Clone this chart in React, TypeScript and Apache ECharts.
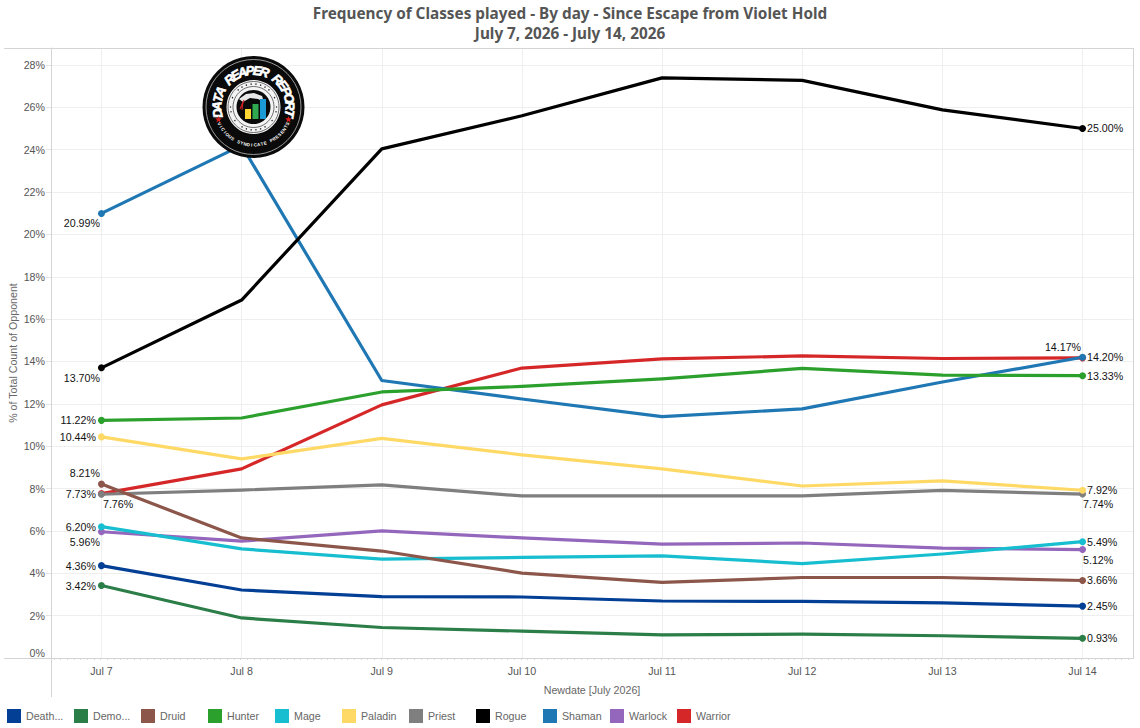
import React, { useEffect, useRef } from "react";
import * as echarts from "echarts";

const days = [7, 8, 9, 10, 11, 12, 13, 14];
const yTicks = [0, 2, 4, 6, 8, 10, 12, 14, 16, 18, 20, 22, 24, 26, 28];
const classNames = ["Death...", "Demo...", "Druid", "Hunter", "Mage", "Paladin", "Priest", "Rogue", "Shaman", "Warlock", "Warrior"];

const deathValues = [4.36, 3.21, 2.9, 2.88, 2.69, 2.67, 2.6, 2.45];
const demoValues = [3.42, 1.89, 1.44, 1.27, 1.09, 1.13, 1.05, 0.93];
const druidValues = [8.21, 5.67, 5.05, 4.01, 3.57, 3.8, 3.8, 3.66];
const hunterValues = [11.22, 11.33, 12.56, 12.82, 13.18, 13.67, 13.36, 13.33];
const mageValues = [6.2, 5.15, 4.67, 4.75, 4.82, 4.46, 4.91, 5.49];
const paladinValues = [10.44, 9.4, 10.37, 9.59, 8.93, 8.12, 8.36, 7.92];
const priestValues = [7.73, 7.93, 8.17, 7.65, 7.65, 7.65, 7.91, 7.74];
const rogueValues = [13.7, 16.9, 24.04, 25.6, 27.39, 27.27, 25.88, 25.0];
const shamanValues = [20.99, 24.2, 13.1, 12.23, 11.4, 11.76, 13.03, 14.2];
const warlockValues = [5.96, 5.52, 6.0, 5.67, 5.38, 5.43, 5.19, 5.12];
const warriorValues = [7.76, 8.93, 11.95, 13.69, 14.12, 14.26, 14.14, 14.17];

const classValues = [deathValues, demoValues, druidValues, hunterValues, mageValues, paladinValues, priestValues, rogueValues, shamanValues, warlockValues, warriorValues];
const classColors = ["#023f95", "#2b7e47", "#8c564b", "#2ca02c", "#17becf", "#ffd966", "#7f7f7f", "#000000", "#1f77b4", "#9467bd", "#d62728"];

// label placement: [position, distance, dx, dy] for first and last point
type P = [string, number, number, number];
const firstLabel: P[] = [
  ["left", 2, 0, 0], ["left", 2, 0, 0], ["left", -2, 0, -11], ["left", 2, 0, 0], ["left", 2, 0, 0], ["left", 2, 0, 0],
  ["left", 2, 0, 0], ["left", -2, 0, 10], ["left", -2, 0, 10], ["left", -2, 0, 10], ["right", -2, 0, 10],
];
const lastLabel: P[] = [
  ["right", 1, 0, 0], ["right", 1, 0, 0], ["right", 1, 0, 0], ["right", 1, 0, 0], ["right", 1, 0, 0], ["right", 1, 0, 0],
  ["right", -3, 0, 10], ["right", 1, 0, 0], ["right", 1, 0, 0], ["right", -3, 0, 10.5], ["left", -2, 0, -11],
];

const FONT = "'Liberation Sans', Arial, sans-serif";
const GRID = { left: 51, right: 1133, top: 48, bottom: 658 };
// the x axis runs in hundredths of a day, so that its bounds stay whole numbers
const DAY_UNIT = 100;
const xMin = 664;
const xMax = 1436;
const LOGO_Z = 100;

function arcText(text: string, cx: number, cy: number, r: number, startDeg: number, endDeg: number, fontSize: number, fontStyle: string, fontWeight: string, bottom: boolean) {
  const n = text.length;
  return text.split("").map((ch, i) => {
    const deg = startDeg + ((endDeg - startDeg) * i) / (n - 1);
    const a = (deg * Math.PI) / 180;
    return {
      type: "text",
      x: cx + r * Math.sin(a),
      y: cy - r * Math.cos(a),
      rotation: -a + (bottom ? Math.PI : 0),
      silent: true,
      style: { text: ch, fill: "#fff", stroke: fontSize > 8 ? "#fff" : undefined, lineWidth: fontSize > 8 ? 0.6 : 0, fontSize, fontStyle, fontWeight, fontFamily: FONT, align: "center", verticalAlign: "middle" },
    };
  });
}

function starPoints(cx: number, cy: number, R: number) {
  const pts: number[][] = [];
  for (let i = 0; i < 10; i++) {
    const r = i % 2 ? R * 0.42 : R;
    const a = (i * Math.PI) / 5;
    pts.push([cx + r * Math.sin(a), cy - r * Math.cos(a)]);
  }
  return pts;
}

function logo() {
  const cx = 253.5;
  const cy = 107;
  const dots = [];
  for (let i = 0; i < 30; i++) {
    const a = (i * Math.PI) / 15;
    dots.push({ type: "circle", shape: { cx: cx + 23 * Math.cos(a), cy: cy + 23 * Math.sin(a), r: 0.7 }, style: { fill: "#222" } });
  }
  const children: any[] = [
    { type: "circle", shape: { cx, cy, r: 51 }, style: { fill: "#0a0a0a" } },
    { type: "circle", shape: { cx, cy, r: 47.5 }, style: { fill: "none", stroke: "#bdbdbd", lineWidth: 0.8 } },
    ...arcText("DATA REAPER REPORT", cx, cy, 36.5, -100, 100, 13, "italic", "bold", false),
    ...arcText("VICIOUS SYNDICATE PRESENTS", cx, cy, 38, 244, 116, 4.5, "normal", "bold", true),
    { type: "polygon", shape: { points: starPoints(cx - 35, cy + 12.5, 3.6) }, style: { fill: "#d62020" } },
    { type: "polygon", shape: { points: starPoints(cx + 35, cy + 12.5, 3.6) }, style: { fill: "#d62020" } },
    { type: "circle", shape: { cx, cy, r: 27 }, style: { fill: "#f4f4f4" } },
    { type: "circle", shape: { cx, cy, r: 25.5 }, style: { fill: "none", stroke: "#333", lineWidth: 0.7 } },
    ...dots,
    { type: "circle", shape: { cx, cy, r: 20.5 }, style: { fill: "none", stroke: "#333", lineWidth: 0.7 } },
    { type: "circle", shape: { cx, cy, r: 17 }, style: { fill: "#0a0a0a" } },
    { type: "polygon", shape: { points: [[239, 99], [246, 94], [254, 93], [262, 96], [264, 102], [258, 99], [250, 98], [243, 102]] }, style: { fill: "#e8e8e8" } },
    { type: "line", shape: { x1: 240, y1: 109, x2: 244, y2: 100 }, style: { stroke: "#d62020", lineWidth: 1.2 } },
    { type: "line", shape: { x1: 242, y1: 110, x2: 243, y2: 102 }, style: { stroke: "#d62020", lineWidth: 1 } },
    { type: "rect", shape: { x: 245, y: 109, width: 6, height: 10 }, style: { fill: "#ffd633" } },
    { type: "rect", shape: { x: 252.5, y: 104, width: 6, height: 15 }, style: { fill: "#2fa84f" } },
    { type: "rect", shape: { x: 260, y: 99, width: 6, height: 20 }, style: { fill: "#1c9ad6" } },
  ];
  return {
    type: "group",
    silent: true,
    children: children.map((c) => ({ ...c, z: LOGO_Z })),
  };
}

function frameLine(x1: number, y1: number, x2: number, y2: number) {
  return { type: "line", z: 1, silent: true, shape: { x1, y1, x2, y2 }, style: { stroke: "#d4d4d4", lineWidth: 1 } };
}

export default function App() {
  const ref = useRef<HTMLDivElement>(null);
  useEffect(() => {
    document.body.style.margin = "0";
    const chart = echarts.init(ref.current!, undefined, { renderer: "svg" });
    const dayTicks = days.map((d) => d * DAY_UNIT);
    const minorTicks: number[] = [];
    for (let v = xMin + 2; v < xMax; v += DAY_UNIT / 21) minorTicks.push(v);

    const order = classNames.map((_, i) => i).reverse();
    const series = order.map((c) => ({
      type: "line",
      name: classNames[c],
      xAxisIndex: 0,
      yAxisIndex: 0,
      lineStyle: { color: classColors[c], width: 3.2, cap: "round", join: "round" },
      itemStyle: { color: classColors[c] },
      symbol: "none",
      silent: true,
      data: classValues[c].map((v, i) => {
        const edge = i === 0 ? firstLabel[c] : i === days.length - 1 ? lastLabel[c] : null;
        if (!edge) return { value: [dayTicks[i], v], symbol: "none" };
        return {
          value: [dayTicks[i], v],
          symbol: "circle",
          symbolSize: 7,
          label: {
            show: true,
            position: edge[0],
            distance: edge[1],
            offset: [edge[2], edge[3]],
            color: "#111111",
            fontSize: 10.67,
            fontFamily: FONT,
            formatter: () => v.toFixed(2) + "%",
          },
        };
      }),
    }));

    chart.setOption({
      animation: false,
      backgroundColor: "#fff",
      title: {
        text: "Frequency of Classes played - By day - Since Escape from Violet Hold\nJuly 7, 2026 - July 14, 2026",
        left: "center",
        top: -2,
        textStyle: { fontFamily: "'Noto Sans', sans-serif", fontWeight: "bold", fontSize: 15.3, lineHeight: 20, color: "#555555" },
      },
      legend: classNames.map((n, i) => ({
        data: [n],
        left: 7 + i * 67,
        top: 709,
        padding: 0,
        icon: "rect",
        itemWidth: 14,
        itemHeight: 14,
        selectedMode: false,
        textStyle: { fontFamily: FONT, fontSize: 10.67, color: "#666666" },
      })),
      grid: { left: GRID.left, top: GRID.top, width: GRID.right - GRID.left, height: GRID.bottom - GRID.top, containLabel: false, outerBoundsMode: "none" },
      xAxis: [
        {
          type: "value",
          min: xMin,
          max: xMax,
          interval: 4,
          name: "Newdate [July 2026]",
          nameLocation: "middle",
          nameGap: 26,
          nameTextStyle: { fontFamily: FONT, fontSize: 10.67, color: "#666666" },
          axisLine: { show: true, lineStyle: { color: "#d4d4d4", width: 1 } },
          axisTick: { show: false, customValues: dayTicks },
          axisLabel: { customValues: dayTicks, formatter: (v: number) => `Jul ${Math.round(v / DAY_UNIT)}`, fontFamily: FONT, fontSize: 10.67, color: "#555555", margin: 7 },
          splitLine: { show: true, lineStyle: { color: "#efefef", width: 1 } },
        },
        {
          type: "value",
          min: xMin,
          max: xMax,
          interval: 4,
          position: "bottom",
          axisLine: { show: false },
          axisTick: { show: true, inside: false, length: 1.5, customValues: minorTicks, lineStyle: { color: "#b0b0b0", width: 1 } },
          axisLabel: { show: false },
          splitLine: { show: false },
        },
      ],
      yAxis: {
        type: "value",
        min: 0,
        max: 28.8,
        interval: 2,
        axisLine: { show: true, lineStyle: { color: "#d4d4d4", width: 1 } },
        axisTick: { show: true, length: 5, customValues: yTicks, lineStyle: { color: "#e4e4e4" } },
        axisLabel: { customValues: yTicks, formatter: "{value}%", fontFamily: FONT, fontSize: 10.67, color: "#555555", margin: 6, verticalAlignMinLabel: "bottom" },
        splitLine: { show: true, lineStyle: { color: "#efefef", width: 1 } },
      },
      graphic: [
        frameLine(4, 48.5, GRID.right + 0.5, 48.5),
        frameLine(4, 658.5, GRID.right + 0.5, 658.5),
        frameLine(GRID.right + 0.5, 48, GRID.right + 0.5, 659),
        frameLine(GRID.left + 0.5, 658, GRID.left + 0.5, 697),
        {
          type: "text",
          x: 13,
          y: 353,
          rotation: Math.PI / 2,
          silent: true,
          style: { text: "% of Total Count of Opponent", fill: "#666666", fontSize: 10.67, fontFamily: FONT, align: "center", verticalAlign: "middle" },
        },
        logo(),
      ],
      series,
    });
    return () => chart.dispose();
  }, []);
  return <div ref={ref} style={{ width: 1140, height: 728, position: "absolute", left: 0, top: 0 }} />;
}
